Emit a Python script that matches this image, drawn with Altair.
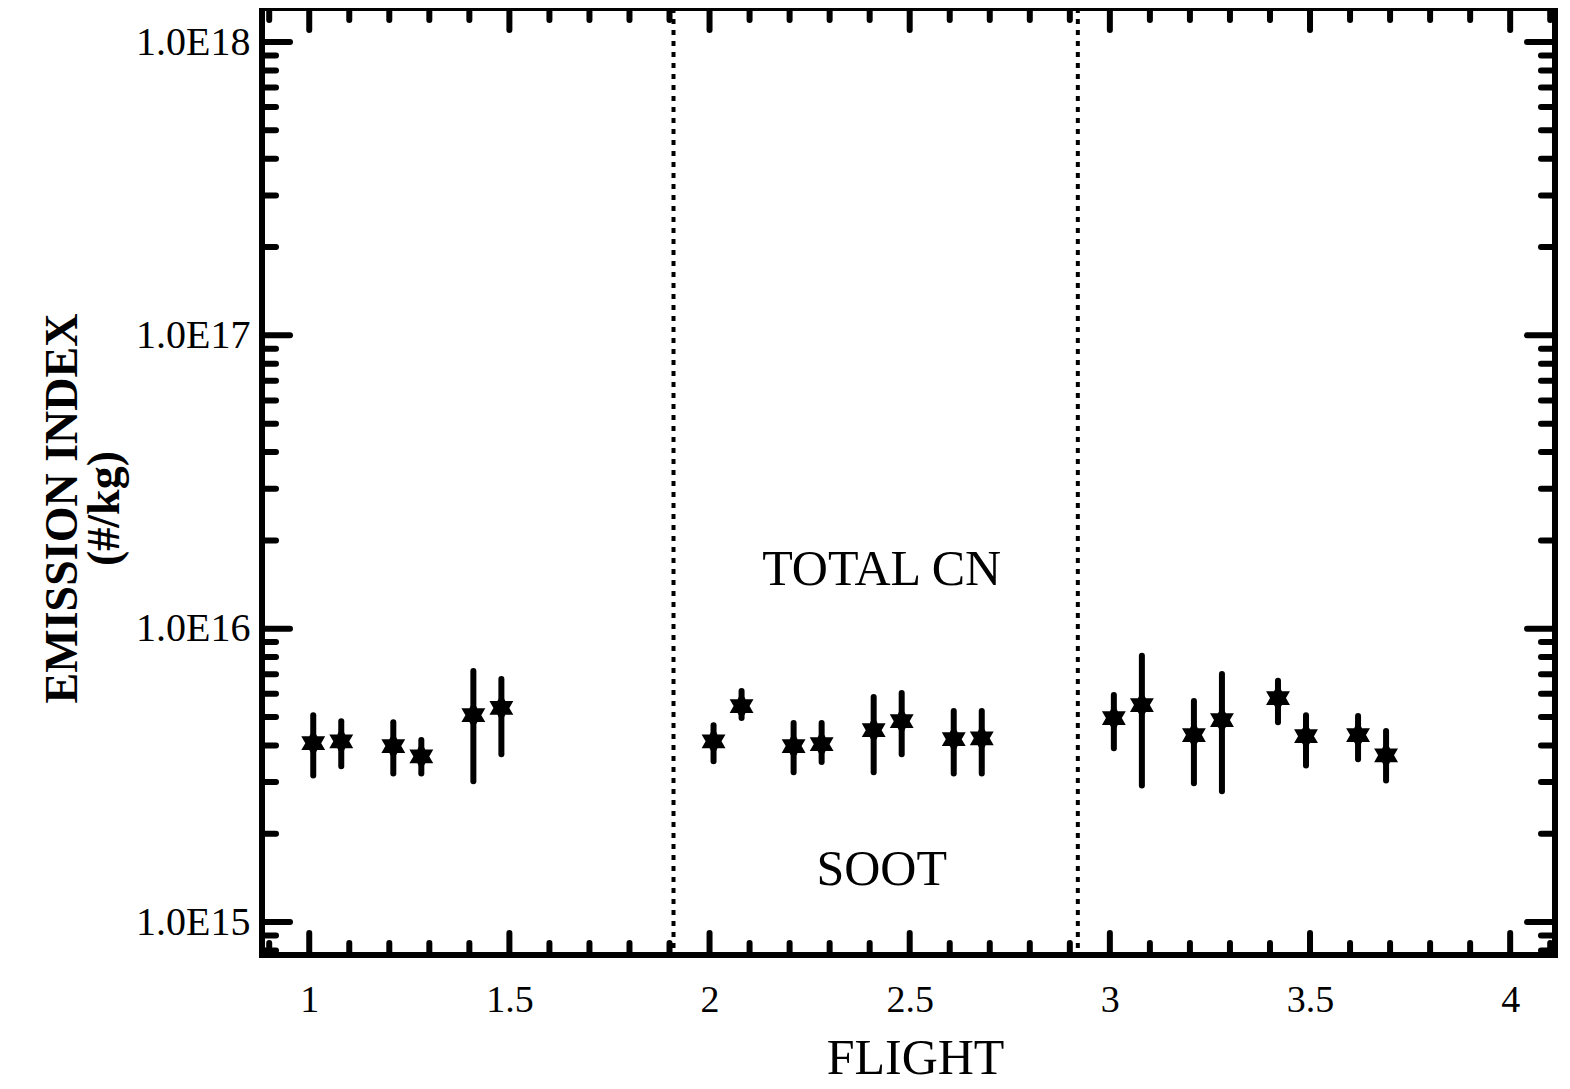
import altair as alt
import pandas as pd

# ---- data ----
flight = [1.01, 1.08, 1.21, 1.28, 1.41, 1.48,
          2.01, 2.08, 2.21, 2.28, 2.41, 2.48, 2.61, 2.68,
          3.01, 3.08, 3.21, 3.28, 3.42, 3.49, 3.62, 3.69]
ei = [4.07e15, 4.13e15, 3.98e15, 3.67e15, 5.07e15, 5.37e15,
      4.13e15, 5.45e15, 3.98e15, 4.04e15, 4.51e15, 4.84e15, 4.20e15, 4.23e15,
      4.96e15, 5.49e15, 4.34e15, 4.88e15, 5.80e15, 4.30e15, 4.34e15, 3.70e15]
ei_hi = [5.07e15, 4.84e15, 4.80e15, 4.17e15, 7.18e15, 6.74e15,
         4.69e15, 6.13e15, 4.77e15, 4.77e15, 5.85e15, 6.04e15, 5.24e15, 5.24e15,
         5.94e15, 8.08e15, 5.67e15, 7.01e15, 6.64e15, 5.07e15, 5.04e15, 4.48e15]
ei_lo = [3.16e15, 3.40e15, 3.21e15, 3.21e15, 3.02e15, 3.73e15,
         3.53e15, 4.96e15, 3.24e15, 3.51e15, 3.24e15, 3.73e15, 3.21e15, 3.21e15,
         3.91e15, 2.92e15, 2.97e15, 2.79e15, 4.80e15, 3.42e15, 3.59e15, 3.04e15]

separators = [1.91, 2.92]

annot_text = ["TOTAL CN", "SOOT"]
annot_x = [2.43, 2.43]
annot_y = [1.58e16, 1.51e15]

x_major_ticks = [1.0, 1.5, 2.0, 2.5, 3.0, 3.5, 4.0]
x_minor_ticks = [0.9, 1.1, 1.2, 1.3, 1.4, 1.6, 1.7, 1.8, 1.9,
                 2.1, 2.2, 2.3, 2.4, 2.6, 2.7, 2.8, 2.9,
                 3.1, 3.2, 3.3, 3.4, 3.6, 3.7, 3.8, 3.9, 4.1]
y_major_ticks = [1e15, 1e16, 1e17, 1e18]
y_minor_ticks = [8e14, 9e14,
                 2e15, 3e15, 4e15, 5e15, 6e15, 7e15, 8e15, 9e15,
                 2e16, 3e16, 4e16, 5e16, 6e16, 7e16, 8e16, 9e16,
                 2e17, 3e17, 4e17, 5e17, 6e17, 7e17, 8e17, 9e17]

W, H = 1293, 947
FONT = "Liberation Serif"
X_DOM = [0.882, 4.112]
Y_DOM = [7.72e14, 1.306e18]

df = pd.DataFrame({"flight": flight, "ei": ei, "lo": ei_lo, "hi": ei_hi})

xs = alt.Scale(domain=X_DOM, nice=False, zero=False)
ys = alt.Scale(type="log", domain=Y_DOM, nice=False)

x_axis = alt.Axis(values=x_major_ticks, format="~g", ticks=False, domain=False, grid=False,
                  labelFont=FONT, labelFontSize=38, labelColor="black", labelPadding=26,
                  labelFlush=False, labelOverlap=False,
                  title="FLIGHT", titleFont=FONT, titleFontSize=50, titleFontWeight="normal",
                  titleColor="black", titleX=653, titleY=103, titleBaseline="middle",
                  titleAnchor="middle", titleAlign="center")
y_axis = alt.Axis(values=y_major_ticks,
                  labelExpr="'1.0E' + format(round(log(datum.value) / LN10), 'd')",
                  ticks=False, domain=False, grid=False,
                  labelFont=FONT, labelFontSize=40, labelColor="black", labelPadding=12,
                  labelFlush=False, labelOverlap=False,
                  title=["EMISSION INDEX", "(#/kg)"], titleFont=FONT, titleFontSize=46,
                  titleFontWeight="bold", titleColor="black", titleLineHeight=42,
                  titleX=-200, titleY=500, titleBaseline="middle", titleAlign="center",
                  titleAngle=270)

base = alt.Chart(df)

errbars = base.mark_rule(color="black", strokeWidth=6, strokeCap="round").encode(
    x=alt.X("flight:Q", scale=xs, axis=x_axis),
    y=alt.Y("lo:Q", scale=ys, axis=y_axis),
    y2="hi:Q",
)

hexagram = ("M0,-1L0.289,-0.5L0.866,-0.5L0.577,0L0.866,0.5L0.289,0.5L0,1"
            "L-0.289,0.5L-0.866,0.5L-0.577,0L-0.866,-0.5L-0.289,-0.5Z")
stars = base.mark_point(shape=hexagram, filled=True, color="black", opacity=1, size=760).encode(
    x=alt.X("flight:Q", scale=xs),
    y=alt.Y("ei:Q", scale=ys),
)

sep = alt.Chart(pd.DataFrame({"x": separators})).mark_rule(
    color="black", strokeWidth=4, strokeDash=[5, 6]
).encode(x=alt.X("x:Q", scale=xs))

annot = alt.Chart(pd.DataFrame({"t": annot_text, "x": annot_x, "y": annot_y})).mark_text(
    font=FONT, fontSize=50, color="black", baseline="middle", align="center"
).encode(x=alt.X("x:Q", scale=xs), y=alt.Y("y:Q", scale=ys), text="t:N")

tick_style = dict(color="black", strokeWidth=6, strokeCap="round")

def xticks(vals, length):
    d = pd.DataFrame({"v": vals})
    bot = alt.Chart(d).mark_rule(**tick_style).encode(
        x=alt.X("v:Q", scale=xs), y=alt.value(H - length), y2=alt.value(H))
    top = alt.Chart(d).mark_rule(**tick_style).encode(
        x=alt.X("v:Q", scale=xs), y=alt.value(0), y2=alt.value(length))
    return [bot, top]

def yticks(vals, length):
    d = pd.DataFrame({"v": vals})
    left = alt.Chart(d).mark_rule(**tick_style).encode(
        y=alt.Y("v:Q", scale=ys), x=alt.value(0), x2=alt.value(length))
    right = alt.Chart(d).mark_rule(**tick_style).encode(
        y=alt.Y("v:Q", scale=ys), x=alt.value(W - length), x2=alt.value(W))
    return [left, right]

tick_layers = (xticks(x_minor_ticks, 12) + xticks(x_major_ticks, 22)
               + yticks(y_minor_ticks, 14) + yticks(y_major_ticks, 28))

chart = alt.layer(errbars, stars, sep, annot, *tick_layers).properties(
    width=W, height=H,
    autosize="none",
    padding={"left": 254, "top": 0, "right": 6, "bottom": 133},
    background="white",
).configure_view(stroke="black", strokeWidth=6)

chart.save("out.html", embed_options={"renderer": "svg", "actions": False})
